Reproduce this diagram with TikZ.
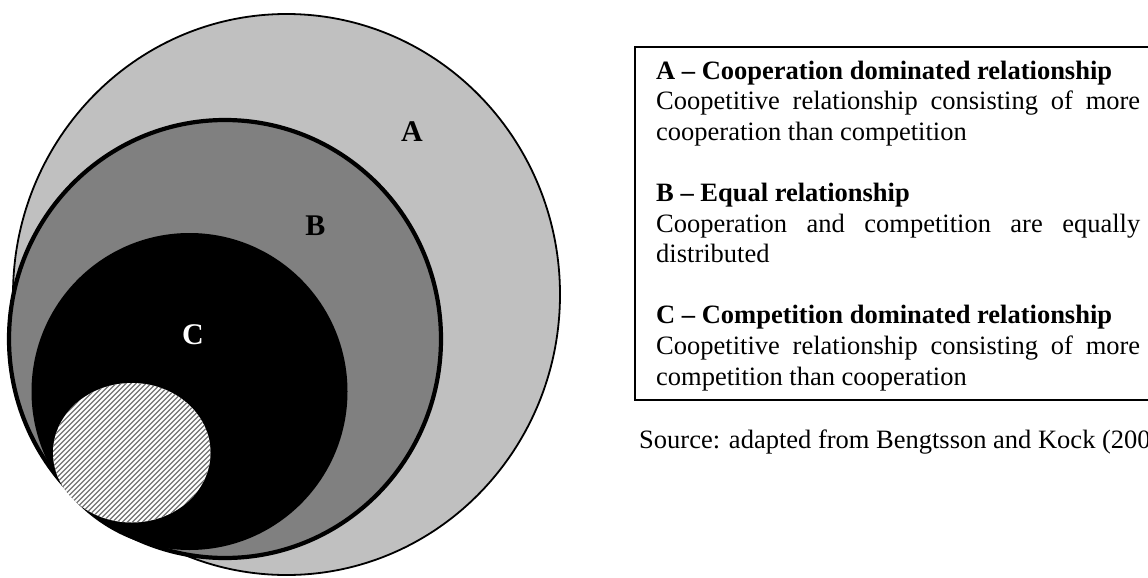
\documentclass[tikz,border=0pt]{standalone}
\usepackage{fontspec}
\setmainfont{Liberation Serif}
\definecolor{ringA}{HTML}{C0C0C0}
\definecolor{ringB}{HTML}{808080}
\begin{document}
\begin{tikzpicture}[x=1pt,y=-1pt,
  txt/.style={anchor=base west, inner sep=0pt, font=\fontsize{26.5}{30.6}\selectfont},
  ttl/.style={anchor=base west, inner sep=0pt, font=\fontsize{26.5}{30.6}\selectfont\bfseries},
  lbl/.style={anchor=base, inner sep=0pt, font=\fontsize{30}{34}\selectfont\bfseries},
  ring/.style={draw=black}]
\useasboundingbox (0,0) rectangle (1148,578);
\fill[white] (0,0) rectangle (1148,578);

% nested relationship areas
\filldraw[ring, fill=ringA, line width=1.8pt] (286.5,294.5) ellipse [x radius=273.5pt, y radius=280.5pt];
\filldraw[ring, fill=ringB, line width=4.2pt] (225,339) ellipse [x radius=216pt, y radius=219pt];
\fill[black] (189.5,391.5) ellipse [x radius=158pt, y radius=158.5pt];

% hatched area
\begin{scope}
  \clip (131.75,452.75) ellipse [x radius=78.75pt, y radius=69.75pt];
  \fill[white] (40,370) rectangle (220,530);
  \foreach \k in {-40,...,40}
    \draw[black!55, line width=1.4pt] ({131.75+5*\k-90},{452.75+90}) -- ({131.75+5*\k+90},{452.75-90});
\end{scope}

% area labels
\node[lbl] (la) at (412,141) {A};
\node[lbl] (lb) at (315.5,235) {B};
\node[lbl, text=white] (lc) at (193,344) {C};

% legend box
\draw[line width=1.2pt] (1148,47) -| (635,400) -- (1148,400);
\node[ttl] (ta)  at (656,79)    {A \textendash{} Cooperation dominated relationship};
\node[txt] (ta1) at (656,109.6) {\makebox[484pt][s]{Coopetitive relationship consisting of more}};
\node[txt] (ta2) at (656,140.2) {cooperation than competition};
\node[ttl] (tb)  at (656,201.4) {B \textendash{} Equal relationship};
\node[txt] (tb1) at (656,232)   {\makebox[484pt][s]{Cooperation and competition are equally}};
\node[txt] (tb2) at (656,262.6) {distributed};
\node[ttl] (tc)  at (656,323.8) {C \textendash{} Competition dominated relationship};
\node[txt] (tc1) at (656,354.4) {\makebox[484pt][s]{Coopetitive relationship consisting of more}};
\node[txt] (tc2) at (656,385)   {competition than cooperation};

\node[txt] (src) at (639,448) {Source: adapted from Bengtsson and Kock (200};
\end{tikzpicture}
\end{document}
